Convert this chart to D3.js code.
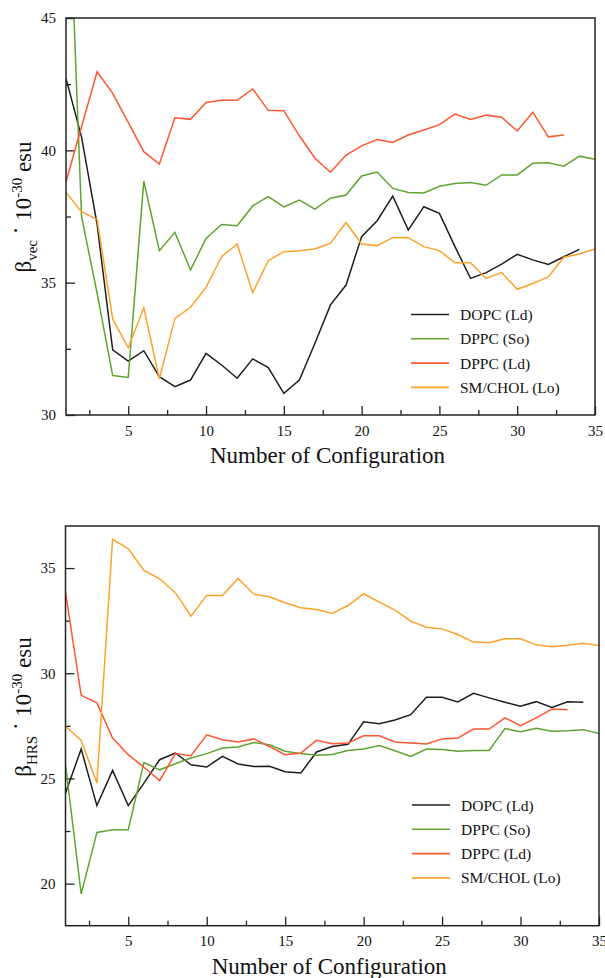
<!DOCTYPE html>
<meta charset="utf-8">
<title>beta vs number of configuration</title>
<style>
body { margin: 0; background: #fff; }
svg text { font-family: "Liberation Serif", "Times New Roman", serif; fill: #111; }
.axis path { display: none; }
.axis line { stroke: #222; stroke-width: 1.3; }
.series { fill: none; stroke-width: 1.5; }
.frame { fill: none; stroke: #222; stroke-width: 1.5; }
</style>
<body>
<svg id="fig" width="605" height="978"></svg>
<script src="https://d3js.org/d3.v7.min.js"></script>
<script>
// series names and colours (legend order)
var seriesNames = ["DOPC (Ld)", "DPPC (So)", "DPPC (Ld)", "SM/CHOL (Lo)"];
var seriesColors = ["#1e1e1e", "#5fa331", "#ff5530", "#ffa02a"];

// top panel: beta_vec (10^-30 esu), one value per configuration 1..n
var vecDOPC_Ld = [42.72, 40.5, 37.2, 32.46, 32.04, 32.43, 31.45, 31.07, 31.32, 32.33, 31.89, 31.39, 32.12, 31.79, 30.82, 31.32, 32.71, 34.16, 34.91, 36.74, 37.34, 38.27, 36.99, 37.87, 37.62, 36.36, 35.16, 35.38, 35.70, 36.07, 35.86, 35.69, 35.98, 36.26];
var vecDPPC_So = [52.9, 37.49, 34.6, 31.49, 31.42, 38.84, 36.21, 36.90, 35.48, 36.67, 37.20, 37.15, 37.90, 38.25, 37.86, 38.12, 37.78, 38.19, 38.31, 39.03, 39.18, 38.56, 38.41, 38.39, 38.64, 38.75, 38.78, 38.68, 39.07, 39.07, 39.51, 39.53, 39.40, 39.78, 39.66];
var vecDPPC_Ld = [38.81, 40.9, 42.97, 42.15, 41.06, 39.95, 39.48, 41.23, 41.17, 41.81, 41.89, 41.89, 42.32, 41.51, 41.50, 40.55, 39.70, 39.17, 39.82, 40.17, 40.41, 40.30, 40.58, 40.77, 40.97, 41.37, 41.17, 41.33, 41.25, 40.73, 41.44, 40.51, 40.58];
var vecSMCHOL_Lo = [38.41, 37.68, 37.39, 33.63, 32.54, 34.05, 31.36, 33.65, 34.07, 34.82, 35.98, 36.46, 34.62, 35.83, 36.17, 36.21, 36.27, 36.49, 37.27, 36.46, 36.40, 36.70, 36.70, 36.36, 36.21, 35.75, 35.75, 35.16, 35.38, 34.75, 34.97, 35.22, 35.96, 36.08, 36.27];

// bottom panel: beta_HRS (10^-30 esu)
var hrsDOPC_Ld = [24.30, 26.40, 23.71, 25.38, 23.71, 24.78, 25.89, 26.21, 25.65, 25.54, 26.05, 25.69, 25.57, 25.58, 25.32, 25.26, 26.26, 26.52, 26.62, 27.69, 27.60, 27.78, 28.03, 28.86, 28.86, 28.64, 29.05, 28.83, 28.62, 28.43, 28.65, 28.37, 28.64, 28.62];
var hrsDPPC_So = [25.65, 19.51, 22.43, 22.56, 22.56, 25.76, 25.41, 25.70, 25.97, 26.18, 26.45, 26.50, 26.71, 26.60, 26.29, 26.18, 26.10, 26.14, 26.33, 26.40, 26.56, 26.32, 26.05, 26.40, 26.37, 26.29, 26.33, 26.33, 27.37, 27.22, 27.38, 27.24, 27.27, 27.32, 27.14];
var hrsDPPC_Ld = [33.86, 28.95, 28.59, 26.92, 26.13, 25.53, 24.90, 26.18, 26.08, 27.07, 26.84, 26.73, 26.88, 26.52, 26.13, 26.21, 26.81, 26.65, 26.69, 27.03, 27.03, 26.73, 26.69, 26.64, 26.88, 26.92, 27.35, 27.35, 27.88, 27.51, 27.88, 28.30, 28.27];
var hrsSMCHOL_Lo = [27.48, 26.81, 24.78, 36.37, 35.92, 34.89, 34.49, 33.83, 32.71, 33.70, 33.70, 34.51, 33.76, 33.64, 33.35, 33.11, 33.03, 32.84, 33.22, 33.78, 33.38, 33.00, 32.48, 32.19, 32.11, 31.84, 31.48, 31.45, 31.64, 31.64, 31.35, 31.26, 31.33, 31.43, 31.32];

// tick values
var xMajor = [5, 10, 15, 20, 25, 30, 35];
var xMinor = [2.5, 7.5, 12.5, 17.5, 22.5, 27.5, 32.5];
var vecMajor = [30, 35, 40, 45], vecMinor = [32.5, 37.5, 42.5];
var hrsMajor = [20, 25, 30, 35], hrsMinor = [22.5, 27.5, 32.5];

var svg = d3.select("#fig");

function drawPanel(p) {
  var x = d3.scaleLinear().domain([1, 35]).range([p.left, p.right]);
  var y = d3.scaleLinear().domain(p.ydom).range([p.bottom, p.top]);
  var g = svg.append("g");

  g.append("clipPath").attr("id", p.id + "clip")
    .append("rect").attr("x", p.left).attr("y", p.top)
    .attr("width", p.right - p.left).attr("height", p.bottom - p.top);

  // minor ticks first, then major with labels
  g.append("g").attr("class", "axis").attr("transform", "translate(0," + p.bottom + ")")
    .call(d3.axisBottom(x).tickValues(xMinor).tickSizeInner(-5).tickSizeOuter(0).tickFormat(""));
  g.append("g").attr("class", "axis").attr("transform", "translate(0," + p.bottom + ")")
    .call(d3.axisBottom(x).tickValues(xMajor).tickSizeInner(-9).tickSizeOuter(0).tickPadding(10))
    .selectAll("text").style("font-size", "15px").attr("fill", "#111");
  g.append("g").attr("class", "axis").attr("transform", "translate(" + p.left + ",0)")
    .call(d3.axisLeft(y).tickValues(p.minor).tickSizeInner(-5).tickSizeOuter(0).tickFormat(""));
  g.append("g").attr("class", "axis").attr("transform", "translate(" + p.left + ",0)")
    .call(d3.axisLeft(y).tickValues(p.major).tickSizeInner(-9).tickSizeOuter(0).tickPadding(10))
    .selectAll("text").style("font-size", "15px").attr("fill", "#111");

  var line = d3.line().x(function(d, i) { return x(i + 1); }).y(function(d) { return y(d); });
  var lines = g.append("g").attr("clip-path", "url(#" + p.id + "clip)");
  p.series.forEach(function(s, k) {
    lines.append("path").attr("class", "series").attr("d", line(s))
      .attr("stroke", seriesColors[k]);
  });

  g.append("rect").attr("class", "frame").attr("x", p.left).attr("y", p.top)
    .attr("width", p.right - p.left).attr("height", p.bottom - p.top);

  // legend
  var lg = g.append("g");
  seriesNames.forEach(function(name, k) {
    var yy = p.legY + k * 24.3;
    lg.append("line").attr("x1", p.legX).attr("x2", p.legX + 38)
      .attr("y1", yy).attr("y2", yy).attr("stroke", seriesColors[k]).attr("stroke-width", 1.6);
    lg.append("text").attr("x", p.legX + 49).attr("y", yy + 5.5)
      .style("font-size", "15.5px").text(name);
  });

  // axis titles
  g.append("text").attr("x", (p.left + p.right) / 2 - 3).attr("y", p.bottom + 48)
    .attr("text-anchor", "middle").style("font-size", "23px").text("Number of Configuration");

  var yt = g.append("text").attr("transform", "translate(31," + p.ylabY + ") rotate(-90)")
    .attr("text-anchor", "middle").style("font-size", "23px");
  yt.append("tspan").text("β");
  yt.append("tspan").attr("dy", 6).style("font-size", "15px").text(p.sub);
  yt.append("tspan").attr("dy", -14).text(" ·");
  yt.append("tspan").attr("dy", 8).text(" 10");
  yt.append("tspan").attr("dy", -9).style("font-size", "15px").text("-30");
  yt.append("tspan").attr("dy", 9).text(" esu");
}

drawPanel({
  id: "vec", left: 66, right: 595, top: 18, bottom: 415,
  ydom: [30, 45], major: vecMajor, minor: vecMinor,
  series: [vecDOPC_Ld, vecDPPC_So, vecDPPC_Ld, vecSMCHOL_Lo],
  legX: 411, legY: 314.5, ylabY: 207, sub: "vec"
});

drawPanel({
  id: "hrs", left: 65.5, right: 599, top: 526, bottom: 925.7,
  ydom: [18, 37], major: hrsMajor, minor: hrsMinor,
  series: [hrsDOPC_Ld, hrsDPPC_So, hrsDPPC_Ld, hrsSMCHOL_Lo],
  legX: 412, legY: 805, ylabY: 707, sub: "HRS"
});
</script>
</body>
